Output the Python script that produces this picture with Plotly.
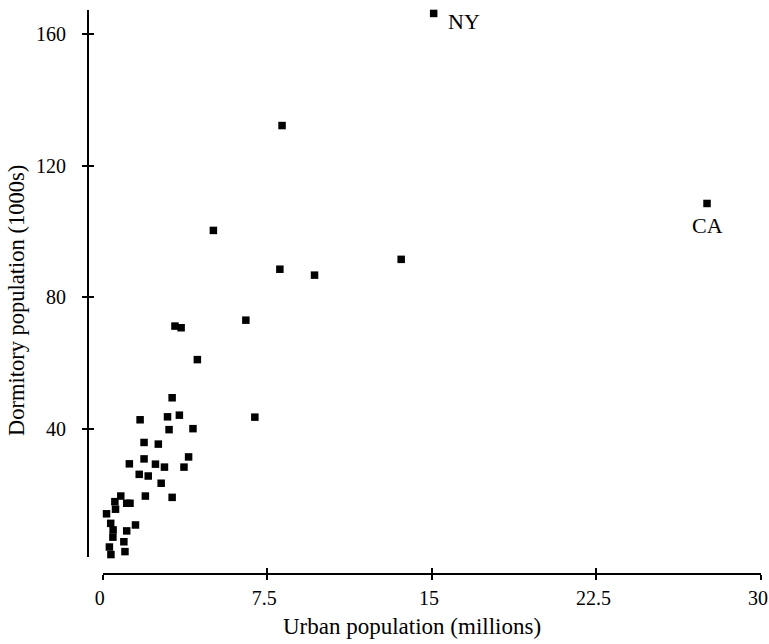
import plotly.graph_objects as go

# Urban population (millions) and dormitory population (1000s) by state
urban_millions = [
    15.08, 8.17, 27.54, 5.04, 13.60, 8.07, 9.65, 6.52, 3.29, 3.57, 4.31,
    3.16, 1.70, 2.95, 3.49, 6.93, 3.02, 4.11, 1.88, 2.53, 1.88, 3.91,
    1.21, 2.40, 2.81, 3.70, 1.66, 2.07, 2.66, 0.82, 1.94, 3.16,
    0.55, 1.09, 1.24, 0.58, 0.17, 1.49, 1.09, 0.96, 1.01, 0.30, 0.37,
    0.36, 0.47, 0.46,
]
dorm_thousands = [
    166.4, 132.3, 108.6, 100.4, 91.6, 88.6, 86.8, 73.1, 71.3, 70.8, 61.1,
    49.5, 42.8, 43.7, 44.2, 43.6, 39.8, 40.1, 35.9, 35.4, 30.9, 31.5,
    29.4, 29.3, 28.4, 28.4, 26.2, 25.7, 23.5, 19.6, 19.6, 19.2,
    17.9, 17.4, 17.4, 15.6, 14.2, 10.8, 9.0, 5.7, 2.7, 4.1, 1.8,
    11.3, 9.3, 7.1,
]

# States called out on the chart: (label, index into the arrays)
callouts = [("NY", 0), ("CA", 2)]

x_ticks = [0, 7.5, 15, 22.5, 30]
x_tick_text = ["0", "7.5", "15", "22.5", "30"]
y_ticks = [40, 80, 120, 160]
y_tick_text = ["40", "80", "120", "160"]

FONT = "Liberation Serif"
W, H = 769, 644
ML, MR, MT, MB = 88, 8, 10, 70

fig = go.Figure()
fig.add_trace(go.Scatter(
    x=urban_millions, y=dorm_thousands, mode="markers",
    marker=dict(symbol="square", size=7.5, color="black", line=dict(width=0)),
    cliponaxis=False, showlegend=False, hoverinfo="x+y",
))

# Labels next to the called-out states
offsets = {"NY": dict(xanchor="left", xshift=12, yshift=-8),
           "CA": dict(xanchor="center", xshift=0, yshift=-22)}
for name, i in callouts:
    fig.add_annotation(x=urban_millions[i], y=dorm_thousands[i], text=name,
                       showarrow=False, yanchor="middle",
                       font=dict(family=FONT, size=22, color="black"),
                       **offsets[name])

axis_common = dict(showgrid=False, zeroline=False, showline=True,
                   linecolor="black", linewidth=2, tickcolor="black",
                   tickwidth=2, ticklen=5, mirror=False, automargin=False)
pw = W - ML - MR
ph = H - MT - MB
x_dom = [(102.8 - ML) / pw, 1]
y_dom = [(H - MB - 557) / ph, 1]
y_range = [1.06, 167.45]

fig.update_layout(
    width=W, height=H,
    margin=dict(l=ML, r=MR, t=MT, b=MB, pad=0, autoexpand=False),
    paper_bgcolor="white", plot_bgcolor="white",
    font=dict(family=FONT, size=20, color="black"),
    xaxis=dict(range=[0, 30], domain=x_dom, anchor="free", position=0,
               tickvals=x_ticks, ticktext=x_tick_text, ticks="outside",
               ticklabelstandoff=1, ticklabelshift=-3,
               ticklabeloverflow="allow", **axis_common),
    xaxis2=dict(range=[0, 30], overlaying="x", anchor="free", position=0,
                side="bottom", tickvals=x_ticks, ticks="inside",
                showticklabels=False, **axis_common),
    yaxis=dict(range=y_range, domain=y_dom, anchor="free", position=0,
               tickvals=y_ticks, ticktext=y_tick_text, ticks="outside",
               ticklabelstandoff=12, ticklabeloverflow="allow",
               **axis_common),
    yaxis2=dict(range=y_range, overlaying="y", anchor="free", position=0,
                side="left", tickvals=y_ticks, ticks="inside",
                showticklabels=False, **axis_common),
)

# Axis titles
fig.add_annotation(xref="paper", yref="paper", x=(412 - ML) / pw,
                   y=(H - MB - 626) / ph, text="Urban population (millions)",
                   showarrow=False, xanchor="center", yanchor="middle",
                   font=dict(family=FONT, size=23, color="black"))
fig.add_annotation(xref="paper", yref="paper", x=(16 - ML) / pw,
                   y=(H - MB - 301) / ph, text="Dormitory population (1000s)",
                   showarrow=False, xanchor="center", yanchor="middle",
                   textangle=-90,
                   font=dict(family=FONT, size=22.5, color="black"))

# invisible trace to register the overlay axes
fig.add_trace(go.Scatter(x=[None], y=[None], xaxis="x2", yaxis="y2",
                         showlegend=False, hoverinfo="skip"))

fig.write_html("out.html")
